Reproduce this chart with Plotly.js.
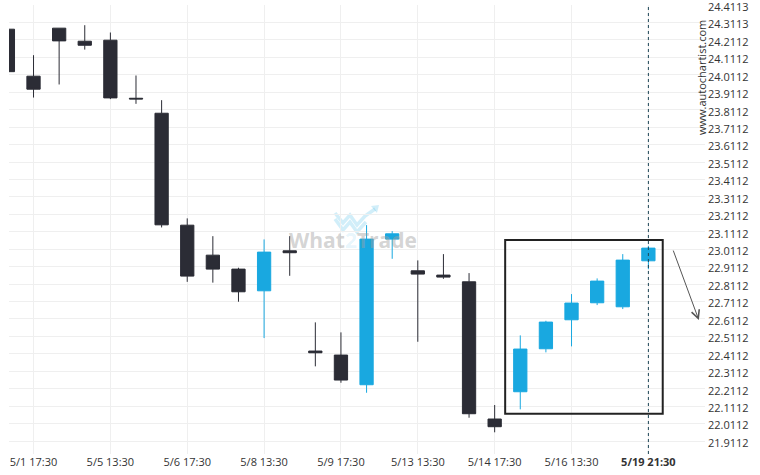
<!DOCTYPE html>
<html>
<head>
<meta charset="utf-8">
<script src="https://cdn.plot.ly/plotly-3.0.1.min.js"></script>
<style>html,body{margin:0;padding:0;background:#fff;}#chart{width:760px;height:475px;}</style>
</head>
<body>
<div id="chart"></div>
<script>
// candle index (position along the time axis)
var idx = [0,1,2,3,4,5,6,7,8,9,10,11,12,13,14,15,16,17,18,19,20,21,22,23,24,25];
var open  = [24.273,24.0035,24.279,24.204,24.210,23.877,23.791,23.149,22.977,22.897,22.7727,23.002,22.4271,22.4041,22.2339,23.0691,22.8874,22.8627,22.8243,22.0373,22.1938,22.4403,22.6065,22.704,22.681,22.9447];
var high  = [24.273,24.124,24.279,24.296,24.254,24.0075,23.866,23.188,23.086,22.905,23.0674,23.0863,22.5916,22.5343,23.1493,23.115,22.947,22.9831,22.8742,22.1176,22.5171,22.6008,22.7538,22.8438,22.9831,23.03];
var low   = [24.0295,23.881,23.956,24.156,23.872,23.845,23.136,22.824,22.8195,22.710,22.5016,22.8587,22.3394,22.2453,22.188,22.9562,22.4804,22.8415,22.0447,21.9611,22.0929,22.4196,22.454,22.6908,22.6679,22.8971];
var close = [24.0295,23.929,24.206,24.181,23.879,23.873,23.151,22.857,22.897,22.767,22.9946,22.991,22.4173,22.2608,23.0691,23.0995,22.8685,22.8513,22.0677,21.9932,22.4386,22.5933,22.7023,22.8283,22.9487,23.0175];

var xTickIdx = [1,4,7,10,13,16,19,22,25];
var xTickText = ['5/1 17:30','5/5 13:30','5/6 17:30','5/8 13:30','5/9 17:30','5/13 13:30','5/14 17:30','5/16 13:30','<b>5/19 21:30</b>'];

var yTickVals = [21.91125,22.01125,22.11125,22.21125,22.31125,22.41125,22.51125,22.61125,22.71125,22.81125,22.91125,23.01125,23.11125,23.21125,23.31125,23.41125,23.51125,23.61125,23.71125,23.81125,23.91125,24.01125,24.11125,24.21125,24.31125,24.41125];
var yTickText = ['21.9112','22.0112','22.1112','22.2112','22.3112','22.4112','22.5112','22.6112','22.7112','22.8112','22.9112','23.0112','23.1112','23.2112','23.3112','23.4112','23.5112','23.6112','23.7112','23.8112','23.9112','24.0112','24.1112','24.2112','24.3113','24.4113'];

// pattern box [x0, x1, y0, y1] and forecast arrow [xFrom, yFrom, xTo, yTo]
var patternBox = [19.41, 25.56, 22.067, 23.064];
var forecastArrow = [25.95, 23.012, 26.97, 22.605];
var lastCandle = 25;

var blue = '#19a8e0', dark = '#2b2c35';

// plot area in pixels, used to place decorations in paper units
var PL = 9, PR = 705, PT = 5, PB = 454;
function px(x){ return ((x - PL) / (PR - PL)).toFixed(4); }
function py(y){ return ((PB - y) / (PB - PT)).toFixed(4); }
function path(pts){ return pts.map(function(p,i){ return (i ? 'L ' : 'M ') + px(p[0]) + ' ' + py(p[1]); }).join(' '); }

var logoCol = 'rgba(27,168,224,0.2)';

var trace = {
  type: 'candlestick',
  x: idx, open: open, high: high, low: low, close: close,
  increasing: {line: {color: blue, width: 1}, fillcolor: blue},
  decreasing: {line: {color: dark, width: 1}, fillcolor: dark},
  whiskerwidth: 0,
  hoverinfo: 'none',
  showlegend: false
};

var layout = {
  width: 760, height: 475,
  margin: {l: PL, r: 760 - PR, t: PT, b: 475 - PB},
  paper_bgcolor: '#ffffff',
  plot_bgcolor: 'rgba(0,0,0,0)',
  font: {family: 'Open Sans, sans-serif', size: 11, color: '#333'},
  boxgap: 0.26,
  showlegend: false,
  xaxis: {
    type: 'linear', range: [0.043, 27.21],
    tickmode: 'array', tickvals: xTickIdx, ticktext: xTickText,
    showgrid: true, gridcolor: '#efefef', gridwidth: 1,
    zeroline: false, showline: false, ticks: '',
    rangeslider: {visible: false},
    tickfont: {size: 11, color: '#333'}, fixedrange: true
  },
  yaxis: {
    side: 'right', range: [21.8367, 24.4118],
    tickmode: 'array', tickvals: yTickVals, ticktext: yTickText,
    showgrid: true, gridcolor: '#efefef', gridwidth: 1,
    zeroline: false, showline: false, ticks: '', ticklabelstandoff: 2,
    ticklabelshift: 2,
    ticklabeloverflow: 'allow',
    tickfont: {size: 11, color: '#333'}, fixedrange: true
  },
  shapes: [
    {type: 'rect', xref: 'x', yref: 'y', x0: patternBox[0], x1: patternBox[1], y0: patternBox[2], y1: patternBox[3],
     line: {color: '#222222', width: 2}, fillcolor: 'rgba(0,0,0,0)', layer: 'above'},
    {type: 'line', xref: 'x', yref: 'paper', x0: lastCandle, x1: lastCandle, y0: 0, y1: 1,
     line: {color: '#1d4556', width: 1, dash: 'dot'}, layer: 'above'},
    // watermark logo
    {type: 'path', xref: 'paper', yref: 'paper', layer: 'below',
     path: path([[335,213],[343,223],[350,215],[357,225],[365,216],[375,209]]),
     line: {color: logoCol, width: 3.5}},
    {type: 'path', xref: 'paper', yref: 'paper', layer: 'below',
     path: path([[335,219],[343,230],[350,222],[357,232],[366,222]]),
     line: {color: logoCol, width: 3.5}},
    {type: 'path', xref: 'paper', yref: 'paper', layer: 'below',
     path: path([[371,206],[379,205],[377,213]]) + ' Z',
     fillcolor: logoCol, line: {width: 0}}
  ],
  annotations: [
    {xref: 'x', yref: 'y', x: forecastArrow[2], y: forecastArrow[3], ax: forecastArrow[0], ay: forecastArrow[1],
     axref: 'x', ayref: 'y', showarrow: true, arrowhead: 5, arrowsize: 1.6, arrowwidth: 1, arrowcolor: '#555555', text: ''},
    {xref: 'paper', yref: 'paper', x: +px(353), y: +py(240), xanchor: 'center', yanchor: 'middle',
     text: '<b>What<span style="color:rgba(27,168,224,0.25)">2</span>Trade</b>', showarrow: false,
     font: {family: 'Open Sans, sans-serif', size: 21, color: 'rgba(160,160,160,0.45)'}},
    {xref: 'paper', yref: 'paper', x: +px(701), y: +py(78), xanchor: 'center', yanchor: 'middle',
     text: 'www.autochartist.com', textangle: -90, showarrow: false,
     font: {family: 'Open Sans, sans-serif', size: 11, color: '#333'}}
  ]
};

Plotly.newPlot('chart', [trace], layout, {staticPlot: true, displayModeBar: false});
</script>
</body>
</html>
